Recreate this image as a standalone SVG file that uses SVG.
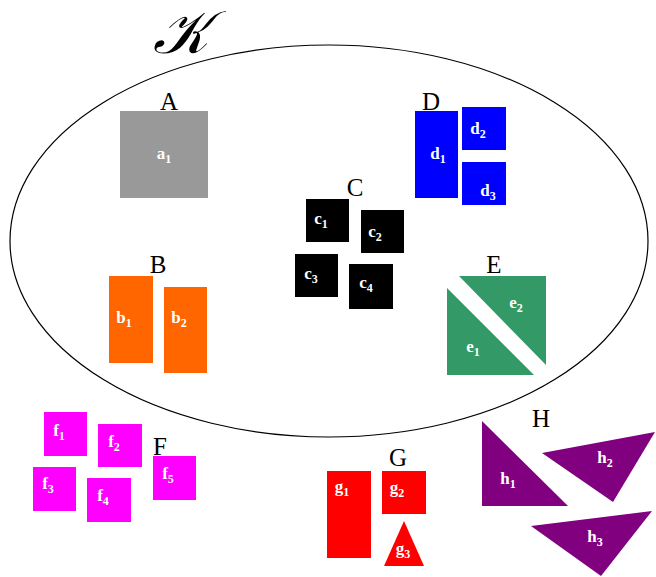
<svg xmlns="http://www.w3.org/2000/svg" width="656" height="577" viewBox="0 0 656 577">
<style>
.grp{font-family:"Liberation Serif",serif;font-size:25px;fill:#000;text-anchor:middle}
.lbl{font-family:"Liberation Serif",serif;font-size:17px;font-weight:bold;fill:#fff;text-anchor:middle}
.sub{font-size:12px}
</style>
<rect width="656" height="577" fill="#fff"/>
<g id="connectors"></g>
<g id="K">
<ellipse cx="329" cy="241" rx="319" ry="196" fill="none" stroke="#000" stroke-width="1.2"/>
<text x="181" y="53" font-family="'DejaVu Serif','Liberation Serif',serif" font-style="italic" font-size="60" text-anchor="middle">𝒦</text>
</g>
<g id="A">
<text class="grp" x="169" y="110">A</text>
<rect x="120" y="111" width="88" height="87" fill="#999999"/>
<text class="lbl" x="164" y="159">a<tspan class="sub" dy="4">1</tspan></text>
</g>
<g id="D">
<text class="grp" x="431" y="110">D</text>
<rect x="415" y="111" width="43" height="87" fill="#0000ff"/>
<rect x="462" y="107" width="44" height="43" fill="#0000ff"/>
<rect x="462" y="162" width="44" height="43" fill="#0000ff"/>
<text class="lbl" x="438" y="159">d<tspan class="sub" dy="4">1</tspan></text>
<text class="lbl" x="478" y="134">d<tspan class="sub" dy="4">2</tspan></text>
<text class="lbl" x="488" y="196">d<tspan class="sub" dy="4">3</tspan></text>
</g>
<g id="C">
<text class="grp" x="355" y="196">C</text>
<rect x="306" y="199" width="43" height="43" fill="#000"/>
<rect x="361" y="210" width="43" height="43" fill="#000"/>
<rect x="295" y="254" width="43" height="43" fill="#000"/>
<rect x="349" y="264" width="44" height="45" fill="#000"/>
<text class="lbl" x="321" y="224">c<tspan class="sub" dy="4">1</tspan></text>
<text class="lbl" x="375" y="237">c<tspan class="sub" dy="4">2</tspan></text>
<text class="lbl" x="311" y="279">c<tspan class="sub" dy="4">3</tspan></text>
<text class="lbl" x="366" y="288">c<tspan class="sub" dy="4">4</tspan></text>
</g>
<g id="B">
<text class="grp" x="158" y="273">B</text>
<rect x="109" y="276" width="44" height="87" fill="#ff6600"/>
<rect x="164" y="287" width="43" height="86" fill="#ff6600"/>
<text class="lbl" x="124" y="323">b<tspan class="sub" dy="4">1</tspan></text>
<text class="lbl" x="179" y="323">b<tspan class="sub" dy="4">2</tspan></text>
</g>
<g id="E">
<text class="grp" x="494" y="273">E</text>
<polygon points="459,276 546,276 546,365" fill="#339966"/>
<polygon points="447,288 447,375 534,375" fill="#339966"/>
<text class="lbl" x="516" y="308">e<tspan class="sub" dy="4">2</tspan></text>
<text class="lbl" x="473" y="352">e<tspan class="sub" dy="4">1</tspan></text>
</g>
<g id="F">
<text class="grp" x="160" y="455">F</text>
<rect x="44" y="412" width="43" height="44" fill="#ff00ff"/>
<rect x="98" y="424" width="44" height="43" fill="#ff00ff"/>
<rect x="33" y="467" width="43" height="44" fill="#ff00ff"/>
<rect x="87" y="478" width="44" height="44" fill="#ff00ff"/>
<rect x="153" y="456" width="43" height="44" fill="#ff00ff"/>
<text class="lbl" x="59" y="436">f<tspan class="sub" dy="4">1</tspan></text>
<text class="lbl" x="114" y="447">f<tspan class="sub" dy="4">2</tspan></text>
<text class="lbl" x="48" y="489">f<tspan class="sub" dy="4">3</tspan></text>
<text class="lbl" x="103" y="501">f<tspan class="sub" dy="4">4</tspan></text>
<text class="lbl" x="168" y="479">f<tspan class="sub" dy="4">5</tspan></text>
</g>
<g id="G">
<text class="grp" x="398" y="466">G</text>
<rect x="327" y="471" width="44" height="87" fill="#ff0000"/>
<rect x="382" y="471" width="44" height="43" fill="#ff0000"/>
<polygon points="404,521 384,566 424,566" fill="#ff0000"/>
<text class="lbl" x="342" y="492">g<tspan class="sub" dy="4">1</tspan></text>
<text class="lbl" x="397" y="493">g<tspan class="sub" dy="4">2</tspan></text>
<text class="lbl" x="403" y="554">g<tspan class="sub" dy="4">3</tspan></text>
</g>
<g id="H">
<text class="grp" x="541" y="427">H</text>
<polygon points="482,421 482,506 568,506" fill="#800080"/>
<polygon points="542,453 655,432 613,502" fill="#800080"/>
<polygon points="531,526 652,511 601,576" fill="#800080"/>
<text class="lbl" x="508" y="484">h<tspan class="sub" dy="4">1</tspan></text>
<text class="lbl" x="605" y="463">h<tspan class="sub" dy="4">2</tspan></text>
<text class="lbl" x="595" y="542">h<tspan class="sub" dy="4">3</tspan></text>
</g>
</svg>
